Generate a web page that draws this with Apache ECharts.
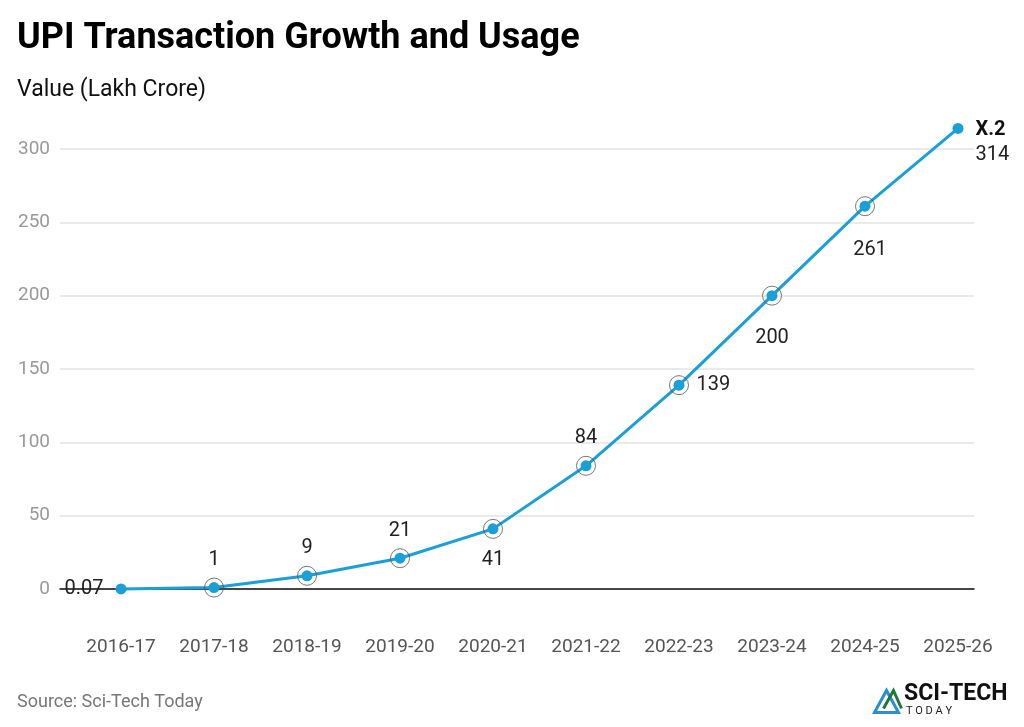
<!DOCTYPE html>
<html>
<head>
<meta charset="utf-8">
<script src="https://cdn.jsdelivr.net/npm/echarts@6/dist/echarts.min.js"></script>
<style>
  html, body { margin: 0; padding: 0; background: #fff; }
  #chart { width: 1024px; height: 727px; }
</style>
</head>
<body>
<div id="chart"></div>
<script>
  // data
  let years = ['2016-17', '2017-18', '2018-19', '2019-20', '2020-21', '2021-22', '2022-23', '2023-24', '2024-25', '2025-26'];
  let values = [0.07, 1, 9, 21, 41, 84, 139, 200, 261, 314];
  let labelPos = ['left', 'top', 'top', 'top', 'bottom', 'top', 'right', 'bottom', 'bottom', 'right'];
  let yTicks = [0, 50, 100, 150, 200, 250, 300];

  let chart = echarts.init(document.getElementById('chart'));
  let blue = '#1a9fd6';
  let font = 'Roboto';

  let lineData = values.map((v, i) => {
    let item = { value: v, label: { position: labelPos[i] } };
    if (i === 4) item.label.offset = [0, 4];
    if (i === 7) item.label.offset = [0, 15];
    if (i === 8) item.label.offset = [5, 16];
    if (i === values.length - 1) {
      item.label.formatter = '{b|X.2}\n{a|314}';
      item.label.offset = [0, 14];
    }
    return item;
  });
  // outer rings on the middle points only
  let ringData = values.map((v, i) => (i === 0 || i === values.length - 1) ? '-' : v);

  let option = {
    animation: false,
    textStyle: { fontFamily: font },
    title: [
      {
        text: 'UPI Transaction Growth and Usage',
        left: 12, top: 16,
        textStyle: { fontFamily: font, fontSize: 36, fontWeight: 'bold', color: '#000' }
      },
      {
        text: 'Value (Lakh Crore)',
        left: 12, top: 74,
        textStyle: { fontFamily: font, fontSize: 23, fontWeight: 'normal', color: '#111' }
      },
      {
        text: 'Source: Sci-Tech Today',
        left: 12, top: 688,
        textStyle: { fontFamily: font, fontSize: 18, fontWeight: 'normal', color: '#777' }
      }
    ],
    grid: [
      { left: 74.5, right: 19.5, top: 149, bottom: 138 },
      { left: 60, right: 50, top: 149, bottom: 138 }
    ],
    xAxis: [
      {
        type: 'category', gridIndex: 0, data: years, boundaryGap: true,
        axisLine: { show: false }, axisTick: { show: false },
        axisLabel: { margin: 49, fontSize: 19, color: '#555', fontFamily: font }
      },
      {
        type: 'value', gridIndex: 1, min: 0, max: 1,
        axisLine: { show: true, onZero: true, lineStyle: { color: '#111', width: 1.5 } },
        axisTick: { show: false }, axisLabel: { show: false }, splitLine: { show: false }
      }
    ],
    yAxis: [
      {
        type: 'value', gridIndex: 0, min: 0, max: 300, interval: 50,
        axisLine: { show: false }, axisTick: { show: false },
        axisLabel: { show: false }, splitLine: { show: false }
      },
      {
        type: 'value', gridIndex: 1, min: 0, max: 300, interval: 50,
        axisLine: { show: false }, axisTick: { show: false },
        axisLabel: {
          margin: 10, fontSize: 19, color: '#999', fontFamily: font,
          formatter: v => yTicks.indexOf(v) >= 0 ? String(v) : ''
        },
        splitLine: { lineStyle: { color: '#e3e3e3', width: 1.5 } }
      }
    ],
    series: [
      {
        type: 'line', xAxisIndex: 0, yAxisIndex: 0,
        data: lineData,
        clip: false,
        symbol: 'circle', symbolSize: 11,
        lineStyle: { color: blue, width: 3 },
        itemStyle: { color: blue },
        label: {
          show: true, fontSize: 20, color: '#222', fontFamily: font, distance: 12,
          rich: {
            b: { fontSize: 20, fontWeight: 'bold', color: '#111', fontFamily: font, lineHeight: 25 },
            a: { fontSize: 20, color: '#222', fontFamily: font, lineHeight: 25 }
          }
        },
        z: 3
      },
      {
        type: 'scatter', xAxisIndex: 0, yAxisIndex: 0,
        data: ringData,
        symbol: 'circle', symbolSize: 19,
        itemStyle: { color: 'rgba(0,0,0,0)', borderColor: '#555', borderWidth: 1 },
        silent: true, z: 4
      }
    ],
    graphic: [
      {
        type: 'polygon', left: 872, top: 688,
        shape: { points: [[0, 28], [12, 6], [24, 28]] },
        style: { fill: 'none', stroke: '#2a8fd0', lineWidth: 3 }
      },
      {
        type: 'polyline', left: 881, top: 688,
        shape: { points: [[2, 26], [12, 8], [20, 26]] },
        style: { fill: 'none', stroke: '#1f7a3a', lineWidth: 3 }
      },
      {
        type: 'text', left: 904, top: 683,
        style: { text: 'SCI-TECH', font: 'bold 23px Roboto', fill: '#111' }
      },
      {
        type: 'text', left: 906, top: 706,
        style: { text: 'T O D A Y', font: '11px Roboto', fill: '#222' }
      }
    ]
  };

  chart.setOption(option);
</script>
</body>
</html>
